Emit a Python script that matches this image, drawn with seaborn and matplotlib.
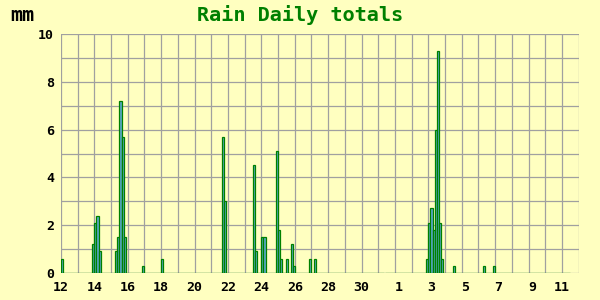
import matplotlib
matplotlib.use("Agg")
import matplotlib.pyplot as plt
import seaborn as sns
import numpy as np
import pandas as pd

# Rain in 3-hour periods: hours from the 12th 00:00, and mm
hours_from_start = [0, 45, 48, 51, 54, 78, 81, 84, 87, 90, 117, 144,
                    231, 234, 276, 279, 288, 291, 309, 312, 315, 324, 330, 333,
                    357, 363, 525, 528, 531, 534, 537, 540, 543, 546,
                    564, 606, 621]
rain_mm = [0.6, 1.2, 2.1, 2.4, 0.9, 0.9, 1.5, 7.2, 5.7, 1.5, 0.3, 0.6,
           5.7, 3.0, 4.5, 0.9, 1.5, 1.5, 5.1, 1.8, 0.6, 0.6, 1.2, 0.3,
           0.6, 0.6, 0.6, 2.1, 2.7, 1.8, 6.0, 9.3, 2.1, 0.6,
           0.3, 0.3, 0.3]

tick_days = list(range(0, 31, 2))
tick_labels = ["12", "14", "16", "18", "20", "22", "24", "26", "28", "30",
               " 1", " 3", " 5", " 7", " 9", "11"]
y_ticks = [0, 2, 4, 6, 8, 10]

BG = "#ffffc0"
GRID = "#a0a0a0"
GREEN = "#008000"
FILL = "#58a8c8"

sns.set_theme(style="white")
plt.rcParams["font.family"] = ["DejaVu Sans Mono", "DejaVu Sans"]
plt.rcParams["font.weight"] = "bold"

df = pd.DataFrame({"day": np.array(hours_from_start) / 24.0 + 1.5 / 24.0,
                   "mm": rain_mm})

fig = plt.figure(figsize=(6, 3), dpi=100, facecolor=BG)
ax = fig.add_axes([61 / 600, 1 - 273 / 300, (578.6 - 61) / 600, (273 - 34) / 300])
ax.set_facecolor(BG)

ax.set_xlim(0, 31)
ax.set_ylim(0, 10)
ax.set_xticks(tick_days)
ax.set_xticks(range(0, 32), minor=True)
ax.set_yticks(y_ticks)
ax.set_yticks(range(0, 11), minor=True)
ax.grid(True, which="both", color=GRID, linewidth=0.9, zorder=0)
ax.set_axisbelow(True)
for s in ax.spines.values():
    s.set_visible(False)

sns.histplot(data=df, x="day", weights="mm", binwidth=0.125,
             binrange=(0, 30.5), stat="count", element="bars",
             color=FILL, edgecolor=GREEN, linewidth=0.9, alpha=1,
             ax=ax, zorder=3)

ax.set_xlim(0, 31)
ax.set_ylim(0, 10)
ax.set_xticks(tick_days)
ax.set_xticklabels(tick_labels)
ax.set_yticks(y_ticks)
ax.set_yticklabels([str(v) for v in y_ticks])
ax.tick_params(axis="both", which="both", length=0, labelsize=9.5,
               labelcolor="black")
ax.tick_params(axis="x", pad=5.5)
ax.tick_params(axis="y", pad=5)
for lab in ax.get_xticklabels() + ax.get_yticklabels():
    lab.set_fontweight("bold")
ax.set_xlabel("")
ax.set_ylabel("")

fig.text(0.5, 1 - 21 / 300, "Rain Daily totals", ha="center", va="baseline",
         fontsize=14.5, fontweight="bold", color=GREEN)
fig.text(10 / 600, 1 - 21 / 300, "mm", ha="left", va="baseline",
         fontsize=14.5, fontweight="bold", color="black")

fig.savefig("out.png", dpi=100, facecolor=BG)
